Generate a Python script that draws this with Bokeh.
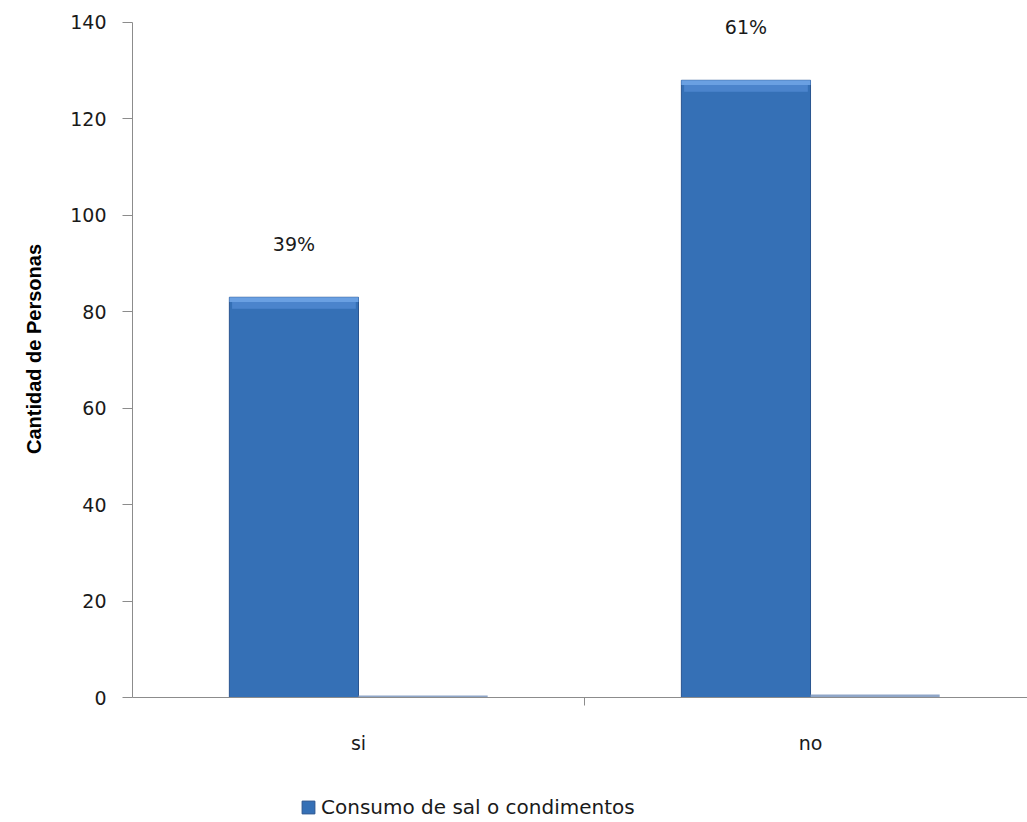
from bokeh.plotting import figure
from bokeh.layouts import column
from bokeh.models import Range1d, FixedTicker, Legend, LegendItem, ColumnDataSource
from bokeh.embed import file_html
from bokeh.resources import INLINE

categories = ["si", "no"]
cantidad = [83, 128]
porcentaje = [0.39, 0.61]
etiquetas = ["39%", "61%"]
serie_nombre = "Consumo de sal o condimentos"

bar_w = 1 / 1.75 / 2
centers = [i + 0.5 for i in range(len(categories))]
x1 = [c - bar_w / 2 for c in centers]
x2 = [c + bar_w / 2 for c in centers]
bevel1 = [v - 1.0 for v in cantidad]
bevel2 = [v - 2.4 for v in cantidad]

src = ColumnDataSource(dict(x1=x1, x2=x2, cantidad=cantidad, porcentaje=porcentaje,
                            etiquetas=etiquetas, bevel1=bevel1, bevel2=bevel2))

BAR_FILL = "#3570B6"
BAR_LINE = "#2A5590"

p = figure(frame_width=895, frame_height=697, output_backend="svg", toolbar_location=None,
           x_range=Range1d(0, 1.98), y_range=Range1d(0, 144.55),
           min_border_left=132, min_border_top=0, min_border_bottom=85, min_border_right=0)
p.outline_line_color = None
p.xgrid.visible = False
p.ygrid.visible = False

p.vbar(x="x1", top="cantidad", width=bar_w, source=src,
       fill_color=BAR_FILL, line_color=BAR_LINE, line_width=1)
p.vbar(x="x1", top="bevel1", bottom="bevel2", width=bar_w - 0.012, source=src,
       fill_color="#4B84CC", line_color=None)
p.vbar(x="x1", top="cantidad", bottom="bevel1", width=bar_w, source=src,
       fill_color="#6AA0E2", line_color=None)
p.vbar(x="x2", top="porcentaje", width=bar_w, source=src,
       fill_color="#8FA6C8", line_color=None)

p.text(x="x1", y="cantidad", text="etiquetas", source=src, y_offset=-53,
       text_align="center", text_baseline="middle", text_font_size="19px",
       text_color="#1a1a1a", text_font={"value": "DejaVu Sans"})

# axes
p.yaxis.bounds = (0, 140)
p.yaxis.ticker = FixedTicker(ticks=list(range(0, 141, 20)))
p.yaxis.major_tick_out = 10
p.yaxis.major_tick_in = 0
p.yaxis.minor_tick_out = 0
p.yaxis.minor_tick_in = 0
p.yaxis.axis_line_color = "#8c8c8c"
p.yaxis.major_tick_line_color = "#8c8c8c"
p.yaxis.major_label_text_font = "DejaVu Sans"
p.yaxis.major_label_text_font_size = "19px"
p.yaxis.major_label_text_color = "#1a1a1a"
p.yaxis.major_label_standoff = 16
p.yaxis.axis_label = "Cantidad de Personas"
p.yaxis.axis_label_text_font = "Liberation Sans"
p.yaxis.axis_label_text_font_style = "bold"
p.yaxis.axis_label_text_font_size = "20px"
p.yaxis.axis_label_text_color = "#000000"
p.yaxis.axis_label_standoff = 22

p.xaxis.ticker = FixedTicker(ticks=centers, minor_ticks=[1.0])
p.xaxis.major_label_overrides = {c: lab for c, lab in zip(centers, categories)}
p.xaxis.major_tick_out = 0
p.xaxis.major_tick_in = 0
p.xaxis.minor_tick_out = 8
p.xaxis.minor_tick_in = 0
p.xaxis.minor_tick_line_color = "#8c8c8c"
p.xaxis.axis_line_color = "#8c8c8c"
p.xaxis.major_label_text_font = "DejaVu Sans"
p.xaxis.major_label_text_font_size = "19px"
p.xaxis.major_label_text_color = "#1a1a1a"
p.xaxis.major_label_standoff = 26

# legend strip below the chart (its bars lie far outside its view, only the legend shows)
p2 = figure(width=1027, height=40, output_backend="svg", toolbar_location=None,
            x_range=Range1d(0, 1.98), y_range=Range1d(300, 301),
            min_border_left=0, min_border_top=0, min_border_bottom=0, min_border_right=0)
p2.axis.visible = False
p2.grid.visible = False
p2.outline_line_color = None
r_leg = p2.vbar(x="x1", top="cantidad", width=bar_w, source=src,
                fill_color=BAR_FILL, line_color=BAR_LINE)

legend = Legend(items=[LegendItem(label=serie_nombre, renderers=[r_leg])],
                orientation="horizontal", location=(168, 3),
                label_text_font="DejaVu Sans", label_text_font_size="20px",
                label_text_color="#1a1a1a", glyph_width=16, glyph_height=16,
                border_line_color=None, background_fill_alpha=0,
                margin=0, padding=0, label_standoff=5, label_height=16)
p2.add_layout(legend, "center")

open("out.html", "w").write(file_html(column(p, p2, spacing=0), INLINE))
